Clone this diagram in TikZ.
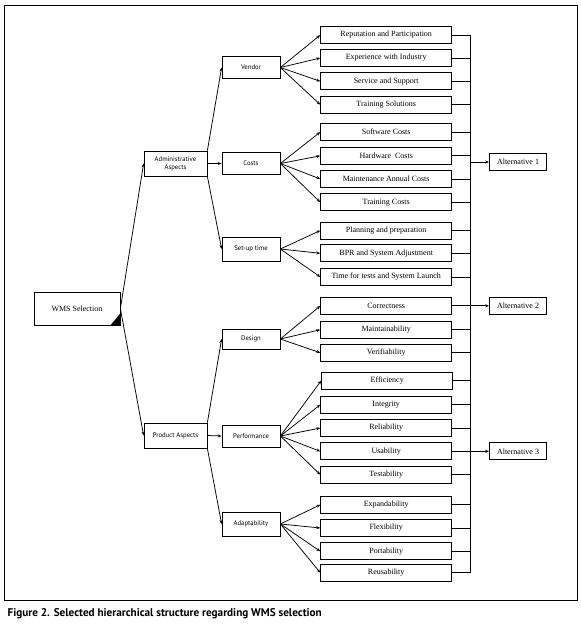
\documentclass[tikz,border=0pt]{standalone}
\usepackage{fontspec}
\setmainfont{Liberation Serif}
\newfontfamily\midfont{PT Sans}
\newfontfamily\capfont{PT Sans}
\usetikzlibrary{arrows.meta}

\tikzset{
  leaf/.style={draw, minimum width=131pt, minimum height=17pt, inner sep=0pt, font=\fontsize{8}{9}\selectfont},
  mid/.style={draw, minimum width=58pt, minimum height=22pt, inner sep=0pt, font=\midfont\fontsize{6.7}{8}\selectfont},
  aspect/.style={mid, minimum width=63pt, minimum height=25pt, align=center},
  altbox/.style={leaf, minimum width=57pt},
}

\begin{document}
\begin{tikzpicture}[x=1pt, y=-1pt, line width=0.75pt, >={Stealth[length=4pt,width=3pt]}]
	\useasboundingbox (0,0) rectangle (581,624);
	\draw[line width=1pt] (4,5) rectangle (577,600);
	\node[anchor=base west, font=\capfont\bfseries\fontsize{11.2}{13}\selectfont] (cap) at (4,616) {Figure 2. Selected hierarchical structure regarding WMS selection};
	% root and aspects
	\node[draw, minimum width=86pt, minimum height=33pt, inner sep=0pt, font=\fontsize{8}{9}\selectfont] (root) at (77,308.5) {WMS Selection};
	\fill (root.south east) -- ++(-10,0) -- ++(10,-12) -- cycle;
	\node[aspect] (adm) at (175.5,163.5) {Administrative\\Aspects};
	\node[aspect] (prd) at (175.5,435.5) {Product Aspects};
	% criteria
	\node[mid] (ven) at (251,67.5) {Vendor};
	\node[mid] (cst) at (251,163.5) {Costs};
	\node[mid, minimum height=24pt] (set) at (251,249) {Set-up time};
	\node[mid, minimum height=20pt] (dsg) at (251,339) {Design};
	\node[mid] (prf) at (251,436) {Performance};
	\node[mid, minimum height=24pt] (adp) at (251,524) {Adaptability};
	% sub-criteria
	\node[leaf] (rep) at (386.2,35) {Reputation and Participation};
	\node[leaf] (exi) at (386.2,58) {Experience with Industry};
	\node[leaf] (ser) at (386.2,81.3) {Service and Support};
	\node[leaf] (trs) at (386.2,104.7) {Training Solutions};
	\node[leaf] (sof) at (386.2,132) {Software Costs};
	\node[leaf] (har) at (386.2,155.8) {Hardware\ \ Costs};
	\node[leaf] (mac) at (386.2,179) {Maintenance Annual Costs};
	\node[leaf] (trc) at (386.2,202.3) {Training Costs};
	\node[leaf] (pla) at (386.2,230.5) {Planning and preparation};
	\node[leaf] (bpr) at (386.2,253.3) {BPR and System Adjustment};
	\node[leaf] (tft) at (386.2,277) {Time for tests and System Launch};
	\node[leaf] (cor) at (386.2,305.8) {Correctness};
	\node[leaf] (mai) at (386.2,329.7) {Maintainability};
	\node[leaf] (ver) at (386.2,352.8) {Verifiability};
	\node[leaf] (eff) at (387.2,380.5) {Efficiency};
	\node[leaf] (itg) at (386.2,404.7) {Integrity};
	\node[leaf] (rel) at (386.2,428) {Reliability};
	\node[leaf] (usa) at (386.2,451.3) {Usability};
	\node[leaf] (tes) at (386.2,474.7) {Testability};
	\node[leaf] (exd) at (386.2,504.7) {Expandability};
	\node[leaf] (fle) at (386.2,528) {Flexibility};
	\node[leaf] (por) at (386.2,551.3) {Portability};
	\node[leaf] (reu) at (386.2,572.8) {Reusability};
	% alternatives
	\node[altbox] (alta) at (518,162) {Alternative 1};
	\node[altbox] (altb) at (518,305.8) {Alternative 2};
	\node[altbox] (altc) at (518,451.3) {Alternative 3};
	% arrows of the tree
	\draw (root.east) edge[->] (adm.west) edge[->] (prd.west);
	\draw (adm.north east) edge[->] (ven.west);
	\draw[->] (adm.east) -- (cst.west);
	\draw (adm.south east) edge[->] (set.west);
	\draw (prd.north east) edge[->] (dsg.west);
	\draw[->] (prd.east) -- (prf.west);
	\draw (prd.south east) edge[->] (adp.west);
	\draw (ven.east) edge[->] (rep.west) edge[->] (exi.west) edge[->] (ser.west) edge[->] (trs.west);
	\draw (cst.east) edge[->] (sof.west) edge[->] (har.west) edge[->] (mac.west) edge[->] (trc.west);
	\draw (set.east) edge[->] (pla.west) edge[->] (bpr.west) edge[->] (tft.west);
	\draw (dsg.east) edge[->] (cor.west) edge[->] (mai.west) edge[->] (ver.west);
	\draw (prf.east) edge[->] (eff.west) edge[->] (itg.west) edge[->] (rel.west) edge[->] (usa.west) edge[->] (tes.west);
	\draw (adp.east) edge[->] (exd.west) edge[->] (fle.west) edge[->] (por.west) edge[->] (reu.west);
	% bus to the alternatives
	\coordinate (bus) at (470.7,0);
	\draw (rep.east -| bus) -- (reu.east -| bus);
	\draw (rep.east) -- (rep.east -| bus) (exi.east) -- (exi.east -| bus) (ser.east) -- (ser.east -| bus)
		(trs.east) -- (trs.east -| bus) (sof.east) -- (sof.east -| bus) (har.east) -- (har.east -| bus)
		(mac.east) -- (mac.east -| bus) (trc.east) -- (trc.east -| bus) (pla.east) -- (pla.east -| bus)
		(bpr.east) -- (bpr.east -| bus) (tft.east) -- (tft.east -| bus) (mai.east) -- (mai.east -| bus)
		(ver.east) -- (ver.east -| bus) (eff.east) -- (eff.east -| bus) (itg.east) -- (itg.east -| bus)
		(rel.east) -- (rel.east -| bus) (tes.east) -- (tes.east -| bus) (exd.east) -- (exd.east -| bus)
		(fle.east) -- (fle.east -| bus) (por.east) -- (por.east -| bus) (reu.east) -- (reu.east -| bus);
	\draw[->] (alta.west -| bus) -- (alta.west);
	\draw[->] (cor.east) -- (altb.west);
	\draw[->] (usa.east) -- (altc.west);
\end{tikzpicture}
\end{document}
